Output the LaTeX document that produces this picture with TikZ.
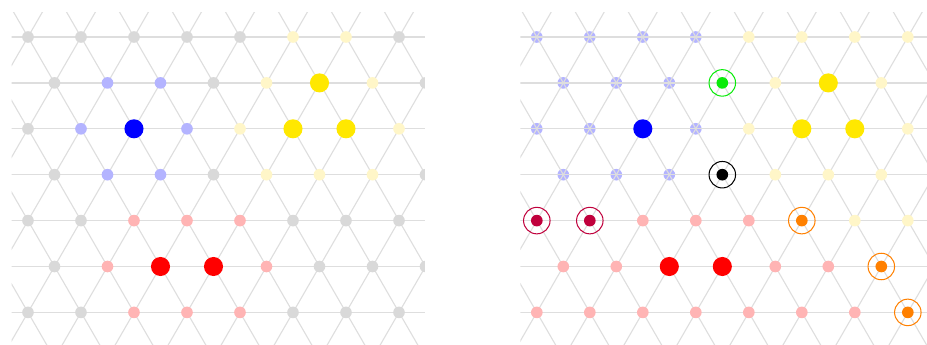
\documentclass[tikz,border=0pt]{standalone}
\usepackage{tikz}
\usetikzlibrary{calc}
\definecolor{edgegray}{RGB}{222,222,222}
\definecolor{sitegray}{RGB}{217,217,217}
\definecolor{paleblue}{RGB}{180,180,255}
\definecolor{paleyellow}{RGB}{255,246,200}
\definecolor{palered}{RGB}{255,180,180}
\definecolor{goldyellow}{RGB}{255,232,0}
\definecolor{brightgreen}{RGB}{10,235,10}
\definecolor{crimson}{RGB}{192,0,60}
\definecolor{orangeq}{RGB}{255,128,0}

% lattice lines of one panel
\newcommand{\latticelines}{%
  \foreach \r in {-1,...,7}
    \draw[edge, line width=0.7pt] (-1,{-0.866*\r}) -- (9,{-0.866*\r});
  \foreach \k in {-6,...,13} {
    \draw[edge] (\k-4,-6.928) -- (\k+1,1.732);
    \draw[edge] (\k+4,-6.928) -- (\k-1,1.732);
  }}
% one row of sites
\newcommand{\siterow}[2]{%
  \foreach \s [count=\c from 0] in {#2}
    \fill[\s] ({\c+0.5*mod(#1,2)},{-0.866*#1}) circle;}

\begin{document}
\begin{tikzpicture}[
    edge/.style={draw=edgegray, line width=0.6pt},
    sg/.style={fill=sitegray, radius=0.11},
    sb/.style={fill=paleblue, radius=0.11},
    sy/.style={fill=paleyellow, radius=0.11},
    sr/.style={fill=palered, radius=0.11},
    LB/.style={fill=blue, radius=0.18},
    LY/.style={fill=goldyellow, radius=0.18},
    LR/.style={fill=red, radius=0.18},
    kg/.style={fill=brightgreen, radius=0.11},
    kk/.style={fill=black, radius=0.11},
    kc/.style={fill=crimson, radius=0.11},
    ko/.style={fill=orangeq, radius=0.11},
    no/.style={fill=none},
    ring/.style={line width=0.55pt, radius=0.25},
]
\useasboundingbox (-0.528,0.698) rectangle (16.962,-5.811);

% Left panel
\begin{scope}
\clip (-0.31,0.47) rectangle (7.49,-5.9);
\latticelines
\siterow{0}{sg,sg,sg,sg,sg,sy,sy,sg}
\siterow{1}{sg,sb,sb,sg,sy,LY,sy,sg}
\siterow{2}{sg,sb,LB,sb,sy,LY,LY,sy}
\siterow{3}{sg,sb,sb,sg,sy,sy,sy,sg}
\siterow{4}{sg,sg,sr,sr,sr,sg,sg,sg}
\siterow{5}{sg,sr,LR,LR,sr,sg,sg,sg}
\siterow{6}{sg,sg,sr,sr,sr,sg,sg,sg}
\end{scope}

% Right panel
\begin{scope}[xshift=9.6cm]
\clip (-0.31,0.47) rectangle (7.49,-5.9);
% blue sites sit under the lines here
\foreach \r/\c in {0/0,0/1,0/2,0/3,1/0,1/1,1/2,2/0,2/1,2/3,3/0,3/1,3/2}
  \fill[sb] ({\c+0.5*mod(\r,2)},{-0.866*\r}) circle;
\latticelines
\siterow{0}{no,no,no,no,sy,sy,sy,sy}
\siterow{1}{no,no,no,kg,sy,LY,sy}
\siterow{2}{no,no,LB,no,sy,LY,LY,sy}
\siterow{3}{no,no,no,kk,sy,sy,sy}
\siterow{4}{kc,kc,sr,sr,sr,ko,sy,sy}
\siterow{5}{sr,sr,LR,LR,sr,sr,ko}
\siterow{6}{sr,sr,sr,sr,sr,sr,sr,ko}
% rings
\foreach \r/\c/\col in {1/3/brightgreen,3/3/black,4/0/crimson,4/1/crimson,
                        4/5/orangeq,5/6/orangeq,6/7/orangeq}
  \draw[ring, \col] ({\c+0.5*mod(\r,2)},{-0.866*\r}) circle;
\end{scope}

\end{tikzpicture}
\end{document}
